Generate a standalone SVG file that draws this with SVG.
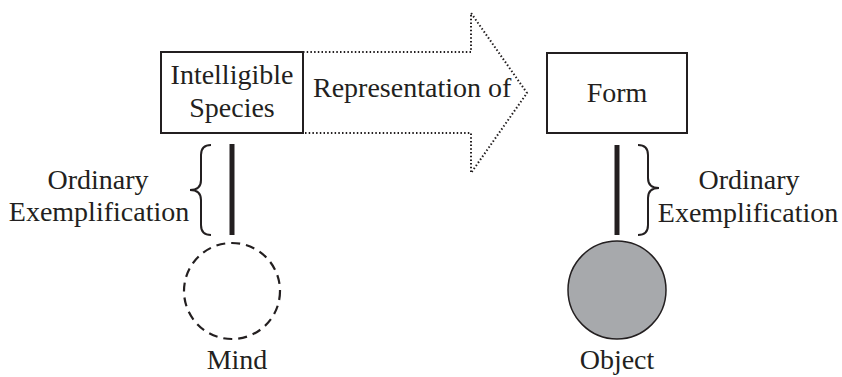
<svg xmlns="http://www.w3.org/2000/svg" width="842" height="377" viewBox="0 0 842 377">
<style>
text{font-family:"Liberation Serif","Times New Roman",serif;font-size:28px;fill:#231f20}
.c{text-anchor:middle}
.box{fill:#fff;stroke:#231f20;stroke-width:2}
.bar{stroke:#231f20;stroke-width:5}
.brace{fill:none;stroke:#231f20;stroke-width:2}
</style>
<rect width="842" height="377" fill="#fff"/>
<g id="connectors">
<path id="arrow" d="M303 52 H471 V13 L527 93 L471 173 V133 H303" fill="none" stroke="#231f20" stroke-width="2" stroke-dasharray="1.5 2.2"/>
<text x="313" y="97">Representation of</text>
<line class="bar" x1="232" y1="144" x2="232" y2="235"/>
<line class="bar" x1="617" y1="145" x2="617" y2="235"/>
<path class="brace" d="M211 145 Q201 145 201 155 L201 180 Q201 190 190 190 Q201 190 201 200 L201 225 Q201 235 211 235"/>
<path class="brace" d="M638 145 Q648 145 648 155 L648 178 Q648 188 659 188 Q648 188 648 198 L648 225 Q648 235 638 235"/>
<text class="c" x="98" y="189">Ordinary</text>
<text class="c" x="99" y="221">Exemplification</text>
<text class="c" x="749" y="189">Ordinary</text>
<text class="c" x="748" y="222">Exemplification</text>
</g>
<g id="species">
<rect class="box" x="161" y="52" width="142" height="81"/>
<text class="c" x="232" y="84">Intelligible</text>
<text class="c" x="232" y="117">Species</text>
</g>
<g id="form">
<rect class="box" x="547" y="53" width="140" height="80"/>
<text class="c" x="617" y="102">Form</text>
</g>
<g id="mind">
<circle cx="232" cy="291" r="48" fill="none" stroke="#231f20" stroke-width="2.2" stroke-dasharray="9 6"/>
<text class="c" x="237" y="369">Mind</text>
</g>
<g id="object">
<circle cx="617" cy="290" r="49" fill="#a7a9ac" stroke="#231f20" stroke-width="1.5"/>
<text class="c" x="617" y="369">Object</text>
</g>
</svg>
